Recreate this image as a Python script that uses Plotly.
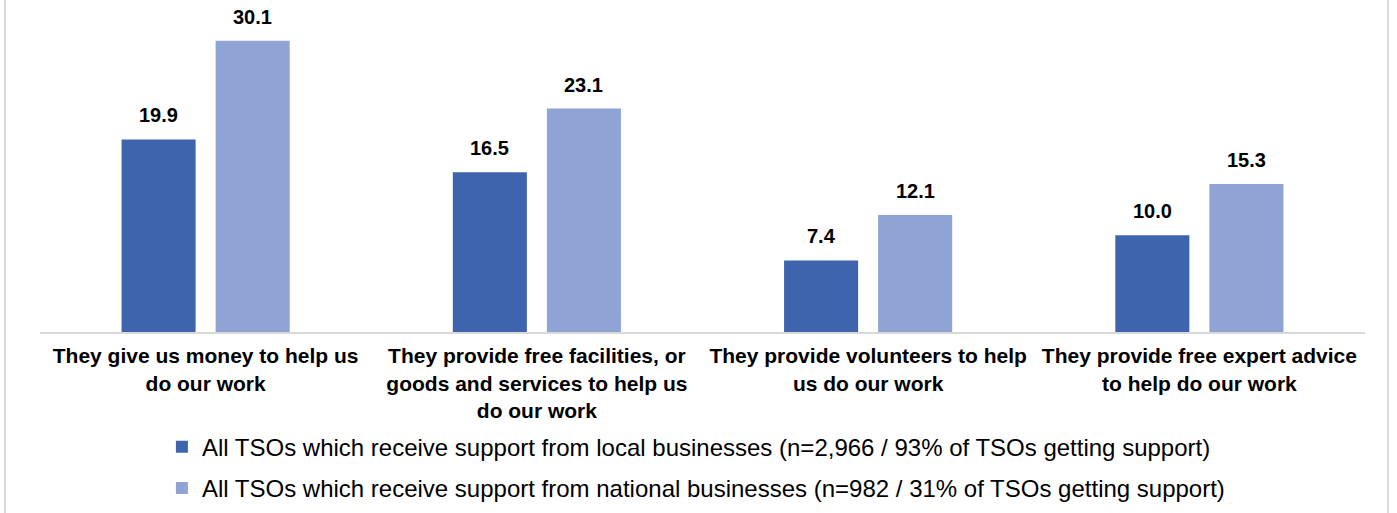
import plotly.graph_objects as go

categories = [
    "They give us money to help us<br>do our work",
    "They provide free facilities, or<br>goods and services to help us<br>do our work",
    "They provide volunteers to help<br>us do our work",
    "They provide free expert advice<br>to help do our work",
]
local_values = [19.9, 16.5, 7.4, 10.0]
national_values = [30.1, 23.1, 12.1, 15.3]
series_names = [
    "All TSOs which receive support from local businesses (n=2,966 / 93% of TSOs getting support)",
    "All TSOs which receive support from national businesses (n=982 / 31% of TSOs getting support)",
]
colors = ["#3D64AC", "#8FA3D4"]

FONT = "Liberation Sans, Arial, sans-serif"

fig = go.Figure()
for i, (name, vals, col) in enumerate(zip(series_names, [local_values, national_values], colors)):
    fig.add_trace(go.Bar(x=categories, y=vals, name=name, marker_color=col,
                         marker_line_width=0, legendgroup=f"g{i}"))

# value labels above each bar
for vals, shift in zip([local_values, national_values], [-47, 47]):
    for cat, v in zip(categories, vals):
        fig.add_annotation(x=cat, y=v, text=f"<b>{v:.1f}</b>", showarrow=False,
                           xshift=shift, yshift=24, yanchor="middle",
                           font=dict(family=FONT, size=20, color="#000000"))

# frame lines at the sides
for xp in [-0.0264, 1.0174]:
    fig.add_shape(type="line", xref="paper", yref="paper", x0=xp, x1=xp,
                  y0=-0.6, y1=1.1, line=dict(color="#D9D9D9", width=2))

fig.update_layout(
    width=1397, height=513,
    margin=dict(l=40, r=32, t=5, b=181, autoexpand=False),
    paper_bgcolor="white", plot_bgcolor="white",
    barmode="group", bargap=0.432, bargroupgap=0.213,
    font=dict(family=FONT, size=21, color="#000000"),
    showlegend=True,
    legend=dict(orientation="v", x=0.092, xanchor="left",
                yref="container", y=0.172, yanchor="top",
                font=dict(family=FONT, size=24, color="#000000"),
                itemwidth=30, tracegroupgap=7, traceorder="grouped"),
    xaxis=dict(showline=True, linecolor="#D9D9D9", linewidth=2, ticks="",
               ticklabelstandoff=4,
               tickfont=dict(family=FONT, size=21, color="#000000", weight="bold"),
               showgrid=False),
    yaxis=dict(range=[0, 33.8], visible=False, showgrid=False),
)

fig.write_html("out.html")
